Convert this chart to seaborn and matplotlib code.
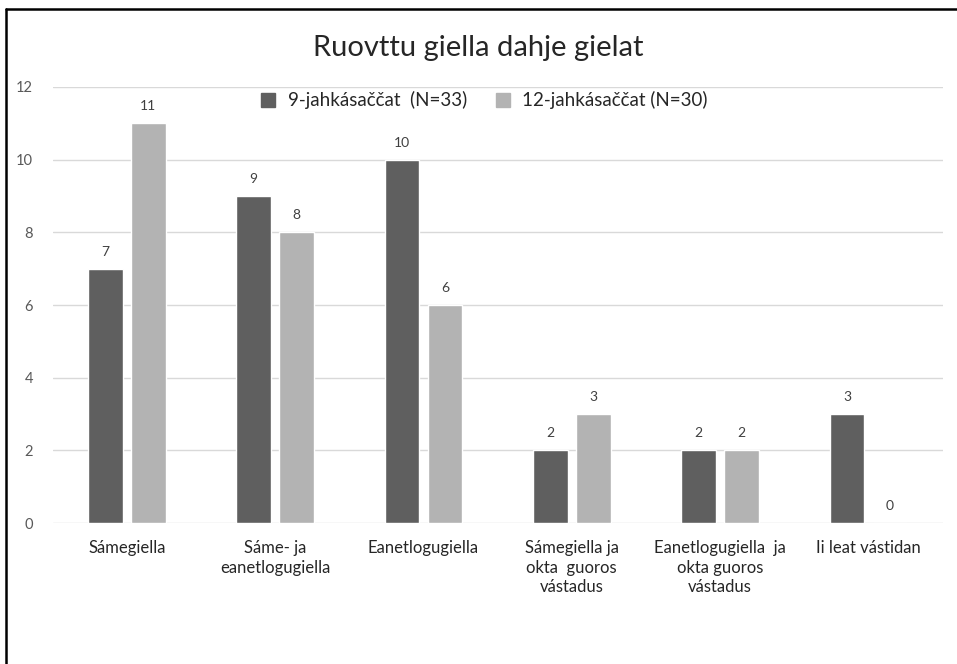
import pandas as pd
import seaborn as sns
import matplotlib.pyplot as plt
from matplotlib.lines import Line2D

# data
categories = ["Sámegiella",
              "Sáme- ja\neanetlogugiella",
              "Eanetlogugiella",
              "Sámegiella ja\nokta  guoros\nvástadus",
              "Eanetlogugiella  ja\nokta guoros\nvástadus",
              "Ii leat vástidan"]
series_names = ["9-jahkásaččat  (N=33)", "12-jahkásaččat (N=30)"]
values_9 = [7, 9, 10, 2, 2, 3]
values_12 = [11, 8, 6, 3, 2, 0]
y_ticks = [0, 2, 4, 6, 8, 10, 12]

data = pd.DataFrame({
    "category": categories * 2,
    "group": [series_names[0]] * len(categories) + [series_names[1]] * len(categories),
    "count": values_9 + values_12,
})

sns.set_style("white")
plt.rcParams["font.family"] = ["Lato", "DejaVu Sans"]

fig = plt.figure(figsize=(9.57, 6.64), dpi=100)
ax = fig.add_axes([0.055, 0.2123, 0.93, 0.6567])

palette = {series_names[0]: "#5f5f5f", series_names[1]: "#b3b3b3"}
sns.barplot(data=data, x="category", y="count", hue="group",
            palette=palette, width=0.58, gap=0.2, saturation=1,
            ax=ax, legend=False)

# value labels
for cont in ax.containers:
    ax.bar_label(cont, padding=8, fontsize=10, color="#404040")

ax.set_ylim(0, 12)
ax.set_yticks(y_ticks)
ax.set_xlim(-0.5, len(categories) - 0.5)
ax.yaxis.grid(True, color="#d9d9d9", linewidth=1)
ax.set_axisbelow(True)
for s in ax.spines.values():
    s.set_visible(False)
ax.tick_params(axis="y", labelsize=10.5, labelcolor="#595959", length=0, pad=14)
ax.tick_params(axis="x", labelsize=12, labelcolor="#262626", length=0, pad=12)
for lbl in ax.get_xticklabels():
    lbl.set_linespacing(1.3)
ax.set_xlabel("")
ax.set_ylabel("")

# legend in the top centre
handles = [Line2D([], [], marker="s", linestyle="", markersize=10,
                  markerfacecolor=palette[n], markeredgecolor=palette[n])
           for n in series_names]
fig.legend(handles, series_names, loc="center", bbox_to_anchor=(0.5, 0.849),
           ncol=2, frameon=False, fontsize=13.5, handletextpad=0.05,
           columnspacing=0.9, labelcolor="#262626")

fig.text(0.5, 0.927, "Ruovttu giella dahje gielat", ha="center", va="center",
         fontsize=21, color="#262626")

# frame lines at top and left of the picture
fig.add_artist(Line2D([0.0063, 1.0], [0.9865, 0.9865], color="black", linewidth=1.8))
fig.add_artist(Line2D([0.0063, 0.0063], [0.0, 0.9865], color="black", linewidth=1.8))

fig.savefig("out.png", dpi=100)
